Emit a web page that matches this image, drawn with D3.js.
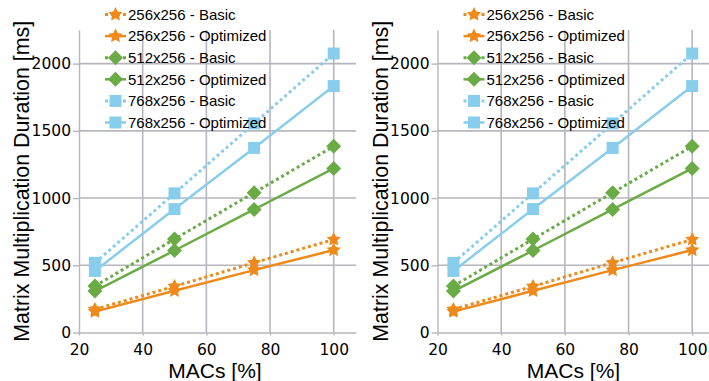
<!DOCTYPE html>
<html>
<head>
<meta charset="utf-8">
<script src="https://cdn.jsdelivr.net/npm/d3@7"></script>
<style>
  html, body { margin: 0; padding: 0; background: #fff; }
  svg { display: block; font-family: "Liberation Sans", Arial, Helvetica, sans-serif; }
  .grid line { stroke: #b6b6be; stroke-width: 1.6; }
  .axis path, .axis line { stroke: #b6b6be; stroke-width: 1.4; }
  .axis text { fill: #000; font-size: 15.5px; font-family: "DejaVu Sans", sans-serif; }
</style>
</head>
<body>
<svg id="chart" width="709" height="381"></svg>
<script>
// values (both panels show the same data)
const macs = [25, 50, 75, 100];
const basic256 = [172, 343, 519, 692];
const optimized256 = [155, 310, 464, 613];
const basic512 = [345, 695, 1040, 1385];
const optimized512 = [308, 610, 915, 1220];
const basic768 = [518, 1035, 1555, 2075];
const optimized768 = [458, 918, 1373, 1833];

const seriesLabels = [
  '256x256 - Basic', '256x256 - Optimized',
  '512x256 - Basic', '512x256 - Optimized',
  '768x256 - Basic', '768x256 - Optimized',
];
const xTicks = [20, 40, 60, 80, 100];
const yTicks = [0, 500, 1000, 1500, 2000];

const ORANGE = '#ee8a1b';
const GREEN = '#6aab45';
const BLUE = '#88cdec';

// marker shapes, size = outer radius
const star = {
  draw(ctx, r) {
    for (let i = 0; i < 10; i++) {
      const a = -Math.PI / 2 + i * Math.PI / 5;
      const rr = i % 2 ? r * 0.5 : r;
      const x = rr * Math.cos(a), y = rr * Math.sin(a);
      if (i === 0) ctx.moveTo(x, y); else ctx.lineTo(x, y);
    }
    ctx.closePath();
  },
};
const diamond = {
  draw(ctx, r) {
    ctx.moveTo(0, -r); ctx.lineTo(r, 0); ctx.lineTo(0, r); ctx.lineTo(-r, 0);
    ctx.closePath();
  },
};
const square = {
  draw(ctx, r) { ctx.rect(-r, -r, 2 * r, 2 * r); },
};

const series = [
  { label: seriesLabels[0], values: basic256, color: ORANGE, dotted: true, shape: star, size: 7.5 },
  { label: seriesLabels[1], values: optimized256, color: ORANGE, dotted: false, shape: star, size: 7.5 },
  { label: seriesLabels[2], values: basic512, color: GREEN, dotted: true, shape: diamond, size: 7.5 },
  { label: seriesLabels[3], values: optimized512, color: GREEN, dotted: false, shape: diamond, size: 7.5 },
  { label: seriesLabels[4], values: basic768, color: BLUE, dotted: true, shape: square, size: 6 },
  { label: seriesLabels[5], values: optimized768, color: BLUE, dotted: false, shape: square, size: 6 },
];

const svg = d3.select('#chart');
const m = { left: 79, right: 356, top: 30, bottom: 332.5 };

function drawPanel(off) {
  const g = svg.append('g').attr('transform', `translate(${off},0)`);
  const x = d3.scaleLinear().domain([20, 107]).range([m.left, m.right]);
  const y = d3.scaleLinear().domain([0, 2250]).range([m.bottom, m.top]);

  // grid
  g.append('g').attr('class', 'grid')
    .selectAll('line').data(yTicks.slice(1)).enter().append('line')
    .attr('x1', m.left).attr('x2', m.right)
    .attr('y1', (d) => y(d)).attr('y2', (d) => y(d));
  g.append('g').attr('class', 'grid')
    .selectAll('line').data(xTicks.slice(1)).enter().append('line')
    .attr('y1', m.top).attr('y2', m.bottom)
    .attr('x1', (d) => x(d)).attr('x2', (d) => x(d));

  // axes
  g.append('g').attr('class', 'axis')
    .attr('transform', `translate(${m.left},0)`)
    .call(d3.axisLeft(y).tickValues(yTicks).tickFormat(d3.format('d'))
      .tickSize(6).tickPadding(2).tickSizeOuter(0));
  g.append('g').attr('class', 'axis')
    .attr('transform', `translate(0,${m.bottom})`)
    .call(d3.axisBottom(x).tickValues(xTicks).tickFormat(d3.format('d'))
      .tickSize(3).tickPadding(8).tickSizeOuter(0));
  g.selectAll('.axis .domain').attr('stroke', '#b6b6be');
  g.selectAll('.axis text').attr('font-family', null).attr('font-size', null);

  // titles
  g.append('text')
    .attr('x', 215).attr('y', 377.5)
    .attr('text-anchor', 'middle')
    .attr('font-size', 21).attr('fill', '#000')
    .text('MACs [%]');
  g.append('text')
    .attr('transform', `translate(29,${(m.top + m.bottom) / 2}) rotate(-90)`)
    .attr('text-anchor', 'middle')
    .attr('font-size', 21.4).attr('fill', '#000')
    .text('Matrix Multiplication Duration [ms]');

  // lines
  const line = d3.line().x((d, i) => x(macs[i])).y((d) => y(d));
  for (const s of series) {
    g.append('path')
      .datum(s.values)
      .attr('fill', 'none')
      .attr('stroke', s.color)
      .attr('stroke-width', s.dotted ? 3 : 2.5)
      .attr('stroke-dasharray', s.dotted ? '3 3' : null)
      .attr('d', line);
  }
  for (const s of series) {
    g.append('g').selectAll('path').data(s.values).enter().append('path')
      .attr('transform', (d, i) => `translate(${x(macs[i])},${y(d)})`)
      .attr('d', d3.symbol().type(s.shape).size(s.size))
      .attr('fill', s.color);
  }

  // legend
  const lg = g.append('g').attr('transform', 'translate(105,14.5)');
  series.forEach((s, i) => {
    const row = lg.append('g').attr('transform', `translate(0,${i * 21.6})`);
    row.append('line')
      .attr('x1', 0).attr('x2', 21).attr('y1', 0).attr('y2', 0)
      .attr('stroke', s.color)
      .attr('stroke-width', s.dotted ? 3 : 2.5)
      .attr('stroke-dasharray', s.dotted ? '3 3' : null);
    row.append('path')
      .attr('transform', 'translate(10.5,0)')
      .attr('d', d3.symbol().type(s.shape).size(s.size))
      .attr('fill', s.color);
    row.append('text')
      .attr('x', 23).attr('y', 0).attr('dy', '0.35em')
      .attr('font-size', 15).attr('fill', '#000')
      .text(s.label);
  });
}

drawPanel(0);
drawPanel(358.5);
</script>
</body>
</html>
